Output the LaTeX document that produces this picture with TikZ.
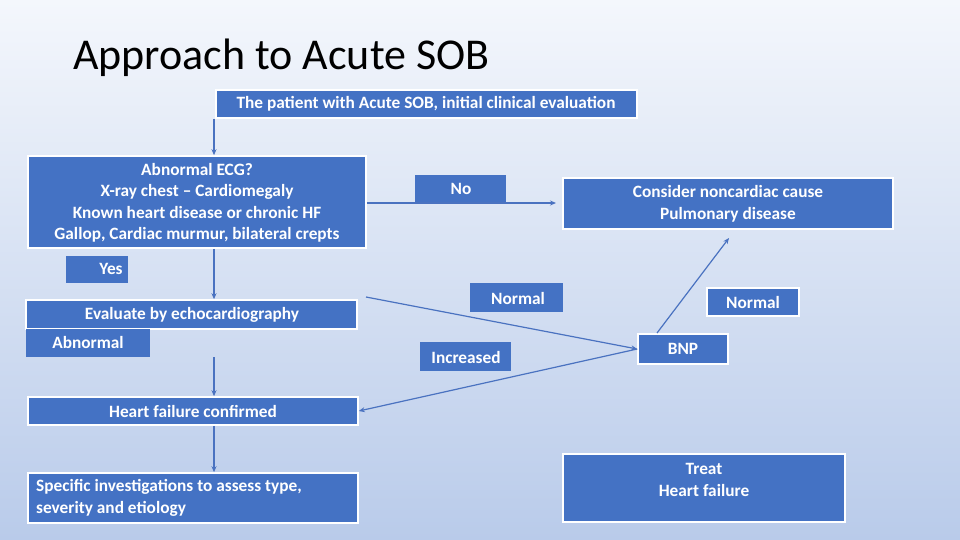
\documentclass[tikz,border=0pt]{standalone}
\usepackage{fontspec}
\setmainfont{Carlito}
\usetikzlibrary{arrows.meta}
\definecolor{bx}{HTML}{4472C4}
\definecolor{ln}{HTML}{4A72C0}
\definecolor{bgt}{HTML}{F4F7FC}
\definecolor{bgb}{HTML}{B9CBEA}
\newcommand{\tf}{\bfseries\fontsize{17.3}{21.5}\selectfont}
\begin{document}
\begin{tikzpicture}[x=1pt,y=-1pt,
  box/.style={fill=bx,draw=white,line width=1.6pt,inner sep=0pt},
  lab/.style={fill=bx,inner sep=0pt},
  txt/.style={text=white,font=\tf,inner sep=0pt,align=center},
  con/.style={draw=ln,line width=1.2pt},
  arr/.style={con,-{Stealth[length=6pt,width=5pt]}}]
\shade[top color=bgt,bottom color=bgb] (0,0) rectangle (960,540);
\useasboundingbox (0,0) rectangle (960,540);
\node[anchor=west,font=\fontsize{44}{48}\selectfont,inner sep=0pt] (title) at (73,58) {Approach to Acute SOB};
\newcommand{\bx}[6]{\node[#1,minimum width=#4-#2,minimum height=#5-#3] (#6) at ({(#2+#4)/2},{(#3+#5)/2}) {};}
\bx{box}{216}{90}{637}{118}{start}
\node[txt] at (426,104) {The patient with Acute SOB, initial clinical evaluation};
\bx{box}{28}{156}{366}{248}{ecg}
\node[txt] at (197,203) {Abnormal ECG?\\X-ray chest – Cardiomegaly\\Known heart disease or chronic HF\\Gallop, Cardiac murmur, bilateral crepts};
\bx{lab}{415}{175}{506}{203}{no}
\node[txt] at (461,189) {No};
\bx{box}{563}{178}{893}{229}{cons}
\node[txt] at (728,204) {Consider noncardiac cause\\Pulmonary disease};
\bx{lab}{66}{256}{128}{283}{yes}
\node[txt] at (111,269) {Yes};
\bx{box}{26}{300}{357}{329}{eval}
\node[txt] at (192,315) {Evaluate by echocardiography};
\bx{lab}{26}{329}{150}{357}{abn}
\node[txt] at (88,342) {Abnormal};
\bx{lab}{470}{283}{563}{312}{norm1}
\node[txt] at (518,298) {Normal};
\bx{box}{707}{288}{799}{316}{norm2}
\node[txt] at (753,302) {Normal};
\bx{lab}{420}{342}{511}{371}{inc}
\node[txt] at (466,357) {Increased};
\bx{box}{638}{334}{728}{364}{bnp}
\node[txt] at (683,349) {BNP};
\bx{box}{28}{397}{358}{425}{hf}
\node[txt] at (193,411) {Heart failure confirmed};
\bx{box}{28}{473}{358}{523}{spec}
\node[txt,align=left,anchor=west] at (36,498) {Specific investigations to assess type,\\severity and etiology};
\bx{box}{563}{454}{845}{522}{treat}
\node[txt] at (704,480) {Treat\\Heart failure};
% connectors
\coordinate (c1) at (214,155);
\draw[arr] (start.south west -| c1) -- (ecg.north -| c1);
\draw[arr] (ecg.south -| c1) -- (eval.north -| c1);
\draw[arr] (abn.south -| c1) -- (hf.north -| c1);
\draw[arr] (hf.south -| c1) -- (spec.north -| c1);
\coordinate (noend) at (556,203);
\draw[arr] (ecg.east |- noend) -- (noend);
\coordinate (evs) at (366,297);
\draw[arr] (evs) -- (bnp.west);
\draw[arr] (bnp.west) -- (hf.east);
\coordinate (bnpt) at (657,333);
\coordinate (consb) at (729,238);
\draw[arr] (bnpt) -- (consb);
\end{tikzpicture}
\end{document}
